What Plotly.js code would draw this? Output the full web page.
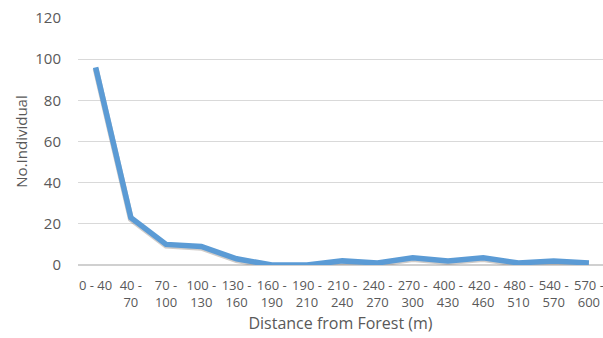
<!DOCTYPE html>
<html><head><meta charset="utf-8">
<script src="https://cdn.plot.ly/plotly-3.0.1.min.js"></script>
<style>html,body{margin:0;padding:0;background:#fff}#c{width:603px;height:338px}</style>
</head><body><div id="c"></div>
<script>
const categories = ["0 - 40","40 -<br>70","70 -<br>100","100 -<br>130","130 -<br>160","160 -<br>190","190 -<br>210","210 -<br>240","240 -<br>270","270 -<br>300","400 -<br>430","420 -<br>460","480 -<br>510","540 -<br>570","570 -<br>600"];
const individuals = [96, 23, 10, 9, 3, 0, 0, 2, 1, 3.5, 2, 3.5, 1, 2, 1];
const yTicks = [0, 20, 40, 60, 80, 100, 120];

const idx = categories.map((_, i) => i);
const shadow = {x: idx, y: individuals.map(v => v - 0.6), type: 'scatter', mode: 'lines',
  line: {color: 'rgba(120,110,100,0.35)', width: 6}, hoverinfo: 'skip', showlegend: false};
const main = {x: idx, y: individuals, type: 'scatter', mode: 'lines',
  line: {color: '#5B9BD5', width: 5.5}, showlegend: false};

Plotly.newPlot('c', [shadow, main], {
  width: 603, height: 338,
  margin: {l: 78, r: 0, t: 18, b: 73},
  paper_bgcolor: '#fff', plot_bgcolor: '#fff',
  font: {family: 'Open Sans, sans-serif', color: '#595959', size: 13},
  xaxis: {tickmode: 'array', tickvals: idx, ticktext: categories, range: [-0.5, 14.4],
    showgrid: false, zeroline: false, showline: false, ticks: '', tickfont: {size: 13, color: '#595959'},
    ticklabelstandoff: 11, ticklabeloverflow: 'allow', automargin: false,
    title: {text: 'Distance from Forest (m)', font: {size: 16, color: '#595959'}, standoff: 7}},
  yaxis: {range: [0, 120], tickvals: yTicks, showgrid: true, gridcolor: '#d9d9d9', gridwidth: 1,
    zeroline: true, zerolinecolor: '#d0d0d0', zerolinewidth: 1.5, showline: false, ticks: '',
    tickfont: {size: 15, color: '#595959'}, ticklabelstandoff: 16,
    title: {text: 'No.Individual', font: {size: 15, color: '#595959'}, standoff: 4}}
}, {displayModeBar: false, staticPlot: true});
</script></body></html>
